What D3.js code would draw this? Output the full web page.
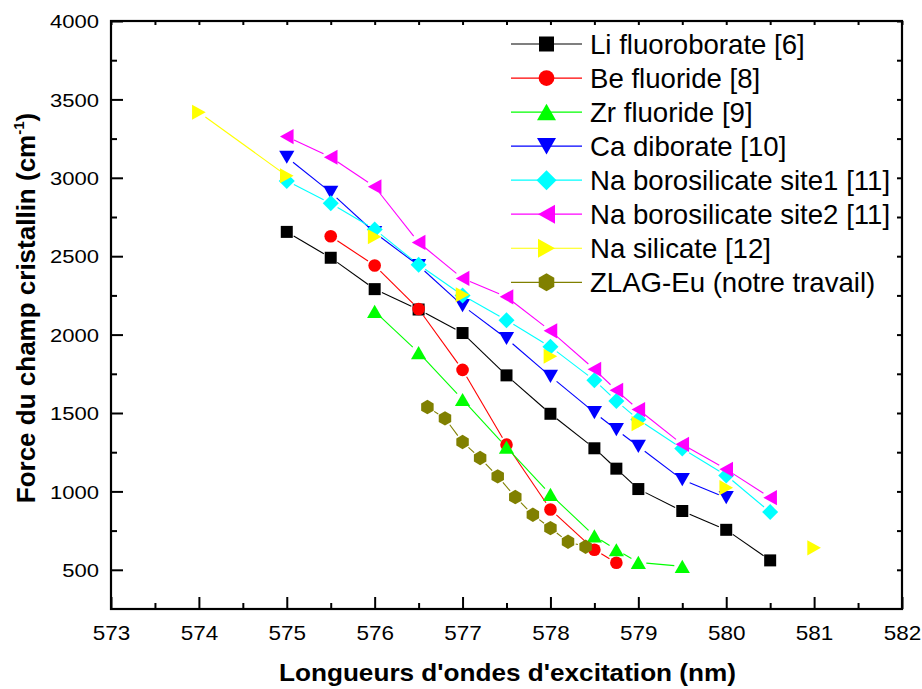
<!DOCTYPE html>
<html>
<head>
<meta charset="utf-8">
<script src="https://cdn.jsdelivr.net/npm/d3@7"></script>
<style>
  html, body { margin: 0; padding: 0; background: #fff; }
  svg { display: block; font-family: "Liberation Sans", Arial, Helvetica, sans-serif; }
</style>
</head>
<body>
<svg id="chart" width="922" height="689"></svg>
<script>
// ---------------- DATA ----------------
const seriesNames = [
  "Li fluoroborate [6]",
  "Be fluoride [8]",
  "Zr fluoride [9]",
  "Ca diborate [10]",
  "Na borosilicate site1 [11]",
  "Na borosilicate site2 [11]",
  "Na silicate [12]",
  "ZLAG-Eu (notre travail)"
];
const liX = [575, 575.5, 576, 576.5, 577, 577.5, 578, 578.5, 578.75, 579, 579.5, 580, 580.5];
const liY = [2655, 2490, 2290, 2160, 2010, 1740, 1495, 1275, 1145, 1015, 875, 755, 560];
const beX = [575.5, 576, 576.5, 577, 577.5, 578, 578.5, 578.75];
const beY = [2627, 2441, 2163, 1775, 1298, 885, 628, 545];
const zrX = [576, 576.5, 577, 577.5, 578, 578.5, 578.75, 579, 579.5];
const zrY = [2148, 1885, 1586, 1282, 981, 716, 628, 547, 522];
const caX = [575, 575.5, 576, 576.5, 577, 577.5, 578, 578.5, 578.75, 579, 579.5, 580];
const caY = [3131, 2907, 2650, 2440, 2185, 1975, 1734, 1503, 1394, 1287, 1075, 960];
const nbs1X = [575, 575.5, 576, 576.5, 577, 577.5, 578, 578.5, 578.75, 579, 579.5, 580, 580.5];
const nbs1Y = [2980, 2837, 2671, 2446, 2250, 2092, 1922, 1709, 1577, 1458, 1273, 1102, 868];
const nbs2X = [575, 575.5, 576, 576.5, 577, 577.5, 578, 578.5, 578.75, 579, 579.5, 580, 580.5];
const nbs2Y = [3263, 3131, 2943, 2588, 2358, 2241, 2024, 1779, 1645, 1522, 1300, 1141, 960];
// Na silicate: missing rows (null) break the connecting line
const nsX = [574, 575, 575.5, 576, 576.5, 577, 577.5, 578, 578.5, 579, 579.5, 580, 580.5, 581];
const nsY = [3418, 3013, null, 2624, null, 2254, null, 1862, null, 1432, null, 1024, null, 640];
const zlagX = [576.6, 576.8, 577.0, 577.2, 577.4, 577.6, 577.8, 578.0, 578.2, 578.4];
const zlagY = [1538, 1466, 1315, 1213, 1096, 964, 851, 766, 679, 647];

const xTicks = [573, 574, 575, 576, 577, 578, 579, 580, 581, 582];
const yTicks = [500, 1000, 1500, 2000, 2500, 3000, 3500, 4000];
const xMinor = [573.5, 574.5, 575.5, 576.5, 577.5, 578.5, 579.5, 580.5, 581.5];
const yMinor = [750, 1250, 1750, 2250, 2750, 3250, 3750];

const xTitle = "Longueurs d'ondes d'excitation (nm)";
const yTitle = "Force du champ cristallin (cm";

// ---------------- STYLE ----------------
const colors = ["#000000", "#ff0000", "#00ff00", "#0000ff", "#00ffff", "#ff00ff", "#ffff00", "#808000"];
const shapes = ["square", "circle", "up", "down", "diamond", "left", "right", "hexagon"];
const seriesX = [liX, beX, zrX, caX, nbs1X, nbs2X, nsX, zlagX];
const seriesY = [liY, beY, zrY, caY, nbs1Y, nbs2Y, nsY, zlagY];

const plot = { left: 111, right: 902, top: 21, bottom: 609 };
const svg = d3.select("#chart");
const x = d3.scaleLinear().domain([573, 582]).range([plot.left, plot.right]);
const y = d3.scaleLinear().domain([250, 4000]).range([plot.bottom, plot.top]);

function symbolPath(shape, s) {
  switch (shape) {
    case "square": { const h = 6 * s; return `M${-h},${-h}H${h}V${h}H${-h}Z`; }
    case "circle": { const r = 6.3 * s; return `M${r},0A${r},${r} 0 1,1 ${-r},0A${r},${r} 0 1,1 ${r},0Z`; }
    case "up": { const w = 7.6 * s, h = 6.6 * s; return `M0,${-h}L${w},${h}L${-w},${h}Z`; }
    case "down": { const w = 7.6 * s, h = 6.6 * s; return `M0,${h}L${w},${-h}L${-w},${-h}Z`; }
    case "diamond": { const r = 8 * s; return `M0,${-r}L${r},0L0,${r}L${-r},0Z`; }
    case "left": { const w = 6.8 * s, h = 7.6 * s; return `M${-w},0L${w},${-h}L${w},${h}Z`; }
    case "right": { const w = 6.8 * s, h = 7.6 * s; return `M${w},0L${-w},${-h}L${-w},${h}Z`; }
    case "hexagon": {
      const r = 7.2 * s; let p = "";
      for (let i = 0; i < 6; i++) {
        const a = Math.PI / 180 * (60 * i - 90);
        p += (i ? "L" : "M") + (r * Math.cos(a)).toFixed(2) + "," + (r * Math.sin(a)).toFixed(2);
      }
      return p + "Z";
    }
  }
}

// ---------------- AXES ----------------
const axes = svg.append("g");
const tickStyle = sel => sel.selectAll("line").attr("stroke", "#000").attr("stroke-width", 2);

const gB = axes.append("g").attr("transform", `translate(0,${plot.bottom})`)
  .call(d3.axisBottom(x).tickValues(xTicks).tickSize(-12).tickFormat(d3.format("d")));
gB.select(".domain").remove();
tickStyle(gB);
gB.selectAll("text").attr("y", 31).attr("dy", null)
  .attr("font-size", 21).attr("font-family", "Liberation Sans, Arial, sans-serif").attr("fill", "#000")
  .attr("textLength", 37.5).attr("lengthAdjust", "spacingAndGlyphs");
const gBm = axes.append("g").attr("transform", `translate(0,${plot.bottom})`)
  .call(d3.axisBottom(x).tickValues(xMinor).tickSize(-6).tickFormat(""));
gBm.select(".domain").remove(); tickStyle(gBm);

const gL = axes.append("g").attr("transform", `translate(${plot.left},0)`)
  .call(d3.axisLeft(y).tickValues(yTicks).tickSize(-12).tickPadding(12).tickFormat(d3.format("d")));
gL.select(".domain").remove();
tickStyle(gL);
gL.selectAll("text").attr("dy", "0.37em")
  .attr("font-size", 18).attr("font-family", "Liberation Sans, Arial, sans-serif").attr("fill", "#000")
  .attr("textLength", d => String(d).length * 12.25).attr("lengthAdjust", "spacingAndGlyphs");
const gLm = axes.append("g").attr("transform", `translate(${plot.left},0)`)
  .call(d3.axisLeft(y).tickValues(yMinor).tickSize(-6).tickFormat(""));
gLm.select(".domain").remove(); tickStyle(gLm);

const gT = axes.append("g").attr("transform", `translate(0,${plot.top})`)
  .call(d3.axisTop(x).tickValues(xTicks.concat(xMinor)).tickSize(-4).tickFormat(""));
gT.select(".domain").remove(); tickStyle(gT);
const gR = axes.append("g").attr("transform", `translate(${plot.right},0)`)
  .call(d3.axisRight(y).tickValues(yTicks.concat(yMinor)).tickSize(-5).tickFormat(""));
gR.select(".domain").remove(); tickStyle(gR);

axes.append("rect")
  .attr("x", plot.left).attr("y", plot.top)
  .attr("width", plot.right - plot.left).attr("height", plot.bottom - plot.top)
  .attr("fill", "none").attr("stroke", "#000").attr("stroke-width", 2.2);

// ---------------- SERIES ----------------
const gap = 8;
const dataG = svg.append("g");
seriesNames.forEach((name, i) => {
  const pts = seriesX[i].map((xv, k) => ({ x: xv, y: seriesY[i][k] }));
  const g = dataG.append("g");
  for (let k = 0; k < pts.length - 1; k++) {
    const a = pts[k], b = pts[k + 1];
    if (a.y == null || b.y == null) continue;
    const x1 = x(a.x), y1 = y(a.y), x2 = x(b.x), y2 = y(b.y);
    const len = Math.hypot(x2 - x1, y2 - y1);
    if (len <= 2 * gap + 1) continue;
    const ux = (x2 - x1) / len, uy = (y2 - y1) / len;
    g.append("line")
      .attr("x1", x1 + ux * gap).attr("y1", y1 + uy * gap)
      .attr("x2", x2 - ux * gap).attr("y2", y2 - uy * gap)
      .attr("stroke", colors[i]).attr("stroke-width", 1.1);
  }
  g.selectAll("path.mk").data(pts.filter(p => p.y != null)).join("path")
    .attr("class", "mk")
    .attr("transform", d => `translate(${x(d.x)},${y(d.y)})`)
    .attr("d", symbolPath(shapes[i], 1))
    .attr("fill", colors[i]);
});

// ---------------- LEGEND ----------------
const leg = svg.append("g");
const legRowY = d3.scaleLinear().domain([0, seriesNames.length - 1]).range([44, 282.3]);
seriesNames.forEach((name, i) => {
  const ry = legRowY(i);
  leg.append("line").attr("x1", 511).attr("x2", 582).attr("y1", ry).attr("y2", ry)
    .attr("stroke", colors[i]).attr("stroke-width", 1.2);
  leg.append("path").attr("transform", `translate(546.5,${ry})`)
    .attr("d", symbolPath(shapes[i], 1.25)).attr("fill", colors[i]);
  leg.append("text").attr("x", 590).attr("y", ry + 9.8)
    .attr("font-size", 27.6).attr("fill", "#000").text(name);
});

// ---------------- TITLES ----------------
svg.append("text")
  .attr("x", (plot.left + plot.right) / 2 + 1).attr("y", 681)
  .attr("text-anchor", "middle").attr("font-weight", "bold").attr("font-size", 24.5)
  .attr("textLength", 457).attr("lengthAdjust", "spacingAndGlyphs")
  .text(xTitle);

const yt = svg.append("text")
  .attr("transform", "translate(35,308) rotate(-90)")
  .attr("text-anchor", "middle").attr("font-weight", "bold").attr("font-size", 26);
yt.append("tspan").text(yTitle);
yt.append("tspan").attr("font-size", 15).attr("dy", -11).text("-1");
yt.append("tspan").attr("dy", 11).text(")");
</script>
</body>
</html>
